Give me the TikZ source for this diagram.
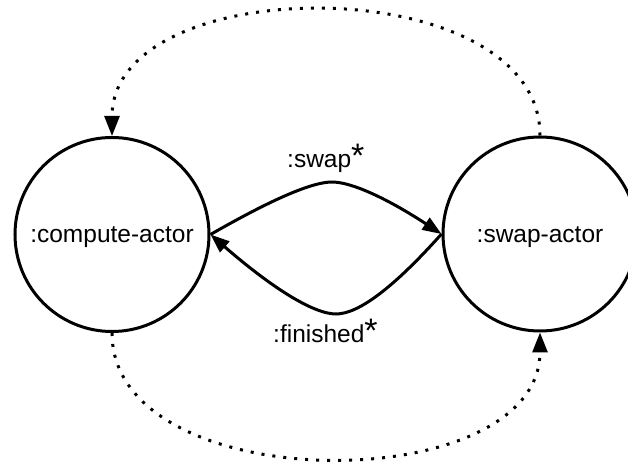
\documentclass[tikz,border=0pt]{standalone}
\usepackage{fontspec}
\setmainfont{Liberation Sans}
\usetikzlibrary{arrows.meta,calc}
\begin{document}
\begin{tikzpicture}[x=1pt,y=1pt,
  actor/.style={circle, draw, line width=3pt, minimum size=194pt, inner sep=0pt,
    font=\fontsize{24.5}{24.5}\selectfont, text height=17pt, text depth=0pt},
  msg/.style={line width=3pt, -{Triangle[length=19pt,width=14pt]}},
  dotline/.style={line width=3pt, dash pattern=on 3pt off 8pt, -{Triangle[length=20pt,width=15pt]}},
  lbl/.style={inner sep=0pt, anchor=base west, font=\fontsize{24.5}{24.5}\selectfont}]
\useasboundingbox (0,0) rectangle (628,465);
\node[actor] (ca) at (112,230.5) {:compute-actor};
\node[actor] (sa) at (540,231) {:swap-actor};
% upper message path guide points
\coordinate (u1) at (302,283);
\coordinate (um) at (332,283);
\coordinate (u2) at (362,283);
% lower message path guide points
\coordinate (l2) at (370,151);
\coordinate (lm) at (336,151);
\coordinate (l1) at (302,151);
\draw[msg] (ca.east) .. controls ($(ca.east)!2/3!(u1)$) and ($(um)!2/3!(u1)$) .. (um)
  .. controls ($(um)!2/3!(u2)$) and ($(sa.west)!2/3!(u2)$) .. (sa.west);
\draw[msg] (sa.west) .. controls ($(sa.west)!2/3!(l2)$) and ($(lm)!2/3!(l2)$) .. (lm)
  .. controls ($(lm)!2/3!(l1)$) and ($(ca.east)!2/3!(l1)$) .. (ca.east);
\node[lbl] (swl) at (287,297) {:swap{\fontsize{34}{34}\selectfont*}};
\node[lbl] (fin) at (273,122) {:finished{\fontsize{34}{34}\selectfont*}};
\draw[dotline] (sa.north) to[out=90,in=90] (ca.north);
\draw[dotline] (ca.south) to[out=-90,in=-90] (sa.south);
\end{tikzpicture}
\end{document}
